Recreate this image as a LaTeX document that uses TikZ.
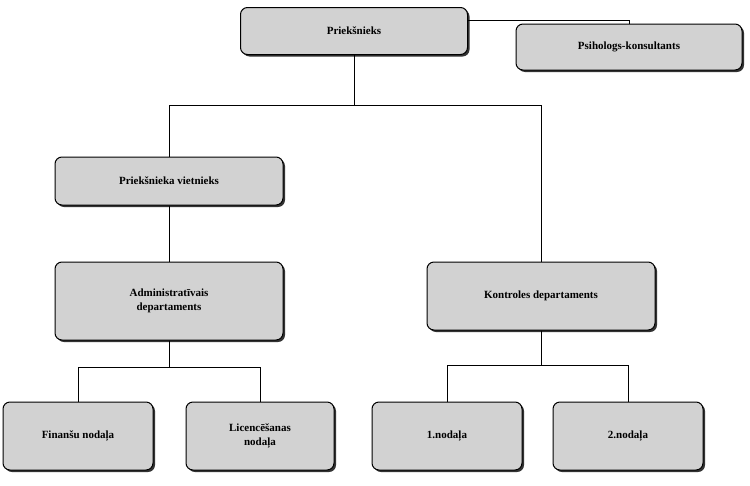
\documentclass[tikz,border=0pt]{standalone}
\usepackage{fontspec}
\setmainfont{Liberation Serif}
\usetikzlibrary{shadows}
\begin{document}
\begin{tikzpicture}[x=1pt,y=-1pt,
 box/.style={draw=black,line width=1pt,rounded corners=7pt,fill=gray!35,
   drop shadow={shadow xshift=2pt,shadow yshift=-2pt,fill=black!80,opacity=1},
   font=\bfseries\fontsize{11}{14}\selectfont,align=center,inner sep=0pt},
 ln/.style={line width=1pt}]
\useasboundingbox (0,0) rectangle (750,485);
\node[box,minimum width=227pt,minimum height=47pt] (p) at (354,31) {Priekšnieks};
\node[box,minimum width=226pt,minimum height=46pt] (ps) at (629,47) {Psihologs-konsultants};
\node[box,minimum width=228pt,minimum height=48pt] (v) at (169,181) {Priekšnieka vietnieks};
\node[box,minimum width=228pt,minimum height=78pt] (a) at (169,301) {Administratīvais\\departaments};
\node[box,minimum width=228pt,minimum height=68pt] (k) at (541,296) {Kontroles departaments};
\node[box,minimum width=150pt,minimum height=68pt] (f) at (78,436) {Finanšu nodaļa};
\node[box,minimum width=148pt,minimum height=68pt] (l) at (260,436) {Licencēšanas\\nodaļa};
\node[box,minimum width=150pt,minimum height=68pt] (n1) at (447,436) {1.nodaļa};
\node[box,minimum width=150pt,minimum height=68pt] (n2) at (628,436) {2.nodaļa};
\coordinate (j1) at (354,105);
\coordinate (j2) at (169,367);
\coordinate (j3) at (541,365);
\draw[ln] (p.east |- 0,20) -| (ps.north);
\draw[ln] (p.south) -- (j1);
\draw[ln] (j1) -| (v.north);
\draw[ln] (j1) -| (k.north);
\draw[ln] (v.south) -- (a.north);
\draw[ln] (a.south) -- (j2);
\draw[ln] (j2) -| (f.north);
\draw[ln] (j2) -| (l.north);
\draw[ln] (k.south) -- (j3);
\draw[ln] (j3) -| (n1.north);
\draw[ln] (j3) -| (n2.north);
\end{tikzpicture}
\end{document}
